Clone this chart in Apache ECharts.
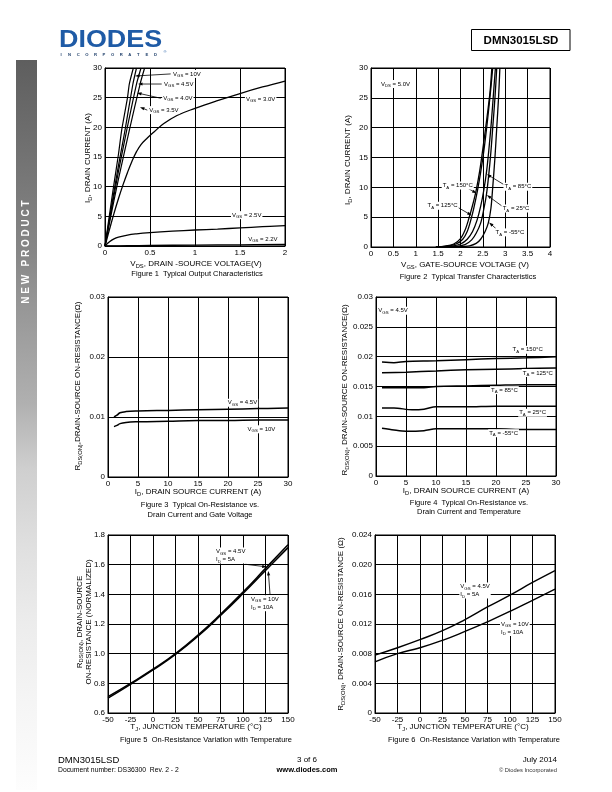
<!DOCTYPE html>
<html><head><meta charset="utf-8">
<script src="https://cdn.jsdelivr.net/npm/echarts@6/dist/echarts.min.js"></script>
<style>html,body{margin:0;padding:0;background:#fff}#c{width:612px;height:792px}</style>
</head><body><div id="c"></div>
<script>
// ---------- DATA ----------
// Figure 1: ID (A) vs VDS (V)
const f1_vgs10 = [[0,0],[0.05,5.3],[0.1,10.5],[0.15,15.5],[0.185,19.5],[0.25,25],[0.27,27.3],[0.315,30]];
const f1_vgs45 = [[0,0],[0.05,4.6],[0.1,9.2],[0.15,13.6],[0.222,19.5],[0.31,27.3],[0.35,30]];
const f1_vgs40 = [[0,0],[0.05,4.3],[0.1,8.5],[0.15,12.6],[0.241,19.5],[0.35,27.3],[0.40,30]];
const f1_vgs35 = [[0,0],[0.05,3.9],[0.1,7.7],[0.15,11.3],[0.27,19.5],[0.39,27.3],[0.44,30]];
const f1_vgs30 = [[0,0],[0.05,2.8],[0.1,5.5],[0.15,8],[0.2,10.3],[0.25,12.4],[0.3,14.3],[0.35,15.9],[0.4,17.1],[0.47,18.2],[0.55,19.3],[0.65,20.6],[0.8,22],[1.0,23.2],[1.25,24.5],[1.5,25.7],[1.75,26.8],[2.0,27.8]];
const f1_vgs25 = [[0,0],[0.05,0.7],[0.1,1.2],[0.15,1.5],[0.25,1.85],[0.35,2.05],[0.5,2.25],[0.75,2.5],[1.0,2.7],[1.25,2.85],[1.5,3.05],[1.75,3.25],[2.0,3.45]];
const f1_vgs22 = [[0,0],[0.25,0.05],[0.5,0.1],[1.0,0.15],[1.5,0.2],[2.0,0.25]];
// Figure 2: ID (A) vs VGS (V)
const f2_m55 = [[1.5,0],[2.0,0.05],[2.2,0.2],[2.35,0.6],[2.45,1.3],[2.55,2.6],[2.62,4],[2.68,6.5],[2.72,10],[2.77,15],[2.81,20],[2.85,25],[2.88,30]];
const f2_25  = [[1.5,0],[1.9,0.1],[2.1,0.4],[2.25,1.2],[2.35,2.3],[2.45,4],[2.52,6.3],[2.58,8.8],[2.63,12],[2.68,16],[2.72,20],[2.77,25],[2.81,30]];
const f2_85  = [[1.45,0],[1.8,0.15],[2.0,0.5],[2.15,1.3],[2.27,2.6],[2.37,4.5],[2.45,6.8],[2.52,9.5],[2.58,12.5],[2.63,16],[2.69,21],[2.74,26],[2.78,30]];
const f2_125 = [[1.45,0],[1.7,0.15],[1.9,0.5],[2.05,1.3],[2.15,2.6],[2.23,4.5],[2.3,6.6],[2.38,9.5],[2.45,12.5],[2.52,16],[2.6,21],[2.67,26],[2.72,30]];
const f2_150 = [[1.45,0],[1.65,0.15],[1.85,0.5],[2.0,1.4],[2.1,2.8],[2.18,4.6],[2.27,7],[2.35,9.5],[2.43,12.8],[2.5,16.5],[2.58,21],[2.66,26],[2.7,30]];
// Figure 3: RDS(on) vs ID
const f3_vgs45 = [[1,0.0100],[1.5,0.0103],[2,0.0107],[3,0.0109],[5,0.0110],[10,0.0111],[15,0.0112],[20,0.0113],[25,0.0114],[30,0.0115]];
const f3_vgs10 = [[1,0.0084],[1.5,0.0086],[2,0.0089],[3,0.0091],[5,0.0092],[10,0.0093],[15,0.0094],[20,0.0094],[25,0.0095],[30,0.0095]];
// Figure 4: RDS(on) vs ID at temperatures
const f4_150 = [[1,0.0191],[3,0.0190],[5,0.0192],[10,0.0193],[15,0.0195],[20,0.0197],[25,0.0198],[30,0.0200]];
const f4_125 = [[1,0.0173],[5,0.0174],[10,0.0176],[15,0.0178],[20,0.0179],[25,0.0180],[30,0.0181]];
const f4_85  = [[1,0.0148],[5,0.0148],[8,0.0148],[10,0.0150],[15,0.0151],[20,0.0152],[25,0.0153],[30,0.0153]];
const f4_25  = [[1,0.0114],[3,0.0114],[6,0.0111],[8,0.0112],[10,0.0116],[15,0.0116],[20,0.0117],[25,0.0117],[30,0.0117]];
const f4_m55 = [[1,0.0080],[3,0.0077],[5,0.0075],[8,0.0076],[10,0.0079],[15,0.0079],[20,0.0079],[25,0.0078],[30,0.0078]];
// Figure 5: normalized RDS(on) vs TJ
const f5_vgs45 = [[-50,0.71],[-25,0.80],[0,0.895],[25,1.0],[50,1.125],[75,1.265],[100,1.415],[125,1.575],[150,1.735]];
const f5_vgs10 = [[-50,0.70],[-25,0.793],[0,0.89],[25,0.995],[50,1.118],[75,1.257],[100,1.405],[125,1.56],[150,1.715]];
// Figure 6: RDS(on) vs TJ
const f6_vgs45 = [[-50,0.0078],[-25,0.0088],[0,0.0099],[25,0.0111],[50,0.0126],[75,0.0143],[100,0.0159],[125,0.0176],[150,0.0192]];
const f6_vgs10 = [[-50,0.0069],[-25,0.0080],[0,0.0088],[25,0.0098],[50,0.0110],[75,0.0123],[100,0.0137],[125,0.0152],[150,0.0167]];

// ---------- LAYOUT ----------
const FF = '"Liberation Sans", Arial, Helvetica, sans-serif';
const grids = [
  {left:105, top:68, width:180, height:178},
  {left:371, top:68, width:179, height:179},
  {left:108, top:297, width:180, height:180},
  {left:376, top:297, width:180, height:179},
  {left:108, top:535, width:180, height:178},
  {left:375, top:535, width:180, height:178}
].map(g => Object.assign({show:true, borderColor:'#000', borderWidth:1, backgroundColor:'transparent', containLabel:false, outerBoundsMode:'none'}, g));

function axis(gi, min, max, interval, fmt) {
  return {type:'value', gridIndex:gi, min, max, interval,
    axisLine:{show:true, onZero:false, lineStyle:{color:'#000', width:1}},
    axisTick:{show:false},
    splitLine:{show:true, lineStyle:{color:'#000', width:1}},
    axisLabel:{color:'#000', fontSize:8, fontFamily:FF, margin:3, formatter:fmt, showMinLabel:true, showMaxLabel:true, hideOverlap:false}};
}
const xAxes = [
  axis(0,0,2,0.5), axis(1,0,4,0.5), axis(2,0,30,5), axis(3,0,30,5),
  axis(4,-50,150,25), axis(5,-50,150,25)
];
const yAxes = [
  axis(0,0,30,5), axis(1,0,30,5),
  axis(2,0,0.03,0.01, v => v===0?'0':v.toFixed(2)),
  axis(3,0,0.03,0.005, v => v===0?'0':(+v.toFixed(3)).toString()),
  axis(4,0.6,1.8,0.2, v => v.toFixed(1)),
  axis(5,0,0.024,0.004, v => v===0?'0':v.toFixed(3))
];

function ln(data, gi, w, sm) {
  return {type:'line', data, xAxisIndex:gi, yAxisIndex:gi, showSymbol:false, symbol:'none',
    smooth:sm, lineStyle:{color:'#000', width:w}, silent:true, clip:true, z:3};
}
const series = [
  ln(f1_vgs10,0,1.2,0.2), ln(f1_vgs45,0,1.2,0.2), ln(f1_vgs40,0,1.2,0.2), ln(f1_vgs35,0,1.2,0.2),
  ln(f1_vgs30,0,1.3,0.4), ln(f1_vgs25,0,1.3,0.4), ln(f1_vgs22,0,1.3,0.4),
  ln(f2_m55,1,1.3,0.3), ln(f2_25,1,1.3,0.3), ln(f2_85,1,1.3,0.3), ln(f2_125,1,1.3,0.3), ln(f2_150,1,1.3,0.3),
  ln(f3_vgs45,2,1.5,0.4), ln(f3_vgs10,2,1.5,0.4),
  ln(f4_150,3,1.5,0.3), ln(f4_125,3,1.5,0.3), ln(f4_85,3,1.5,0.3), ln(f4_25,3,1.5,0.3), ln(f4_m55,3,1.5,0.3),
  ln(f5_vgs45,4,1.5,0.5), ln(f5_vgs10,4,1.5,0.5),
  ln(f6_vgs45,5,1.4,0.5), ln(f6_vgs10,5,1.4,0.5)
];

const chart = echarts.init(document.getElementById('c'), null, {renderer:'canvas', width:612, height:792});
chart.setOption({animation:false, backgroundColor:'#fff', grid:grids, xAxis:xAxes, yAxis:yAxes, series});

// ---------- TEXT HELPERS ----------
function richStr(s) {
  const parts = s.split(/_\{([^}]*)\}/);
  let out = '';
  parts.forEach((p, i) => { if (p) out += '{' + (i % 2 ? 's' : 'm') + '|' + p + '}'; });
  return out;
}
function txt(s, fs, x, y, o) {
  o = o || {};
  const lh = o.lh || Math.round(fs * 1.25);
  const col = o.color || '#000';
  const fw = o.bold ? 'bold' : 'normal';
  const style = {
    text: richStr(s), fill: col,
    align: o.align || 'center', textAlign: o.align || 'center',
    verticalAlign: 'middle', textVerticalAlign: 'middle',
    fontSize: fs, fontFamily: FF, fontWeight: fw,
    rich: {
      m: {fontSize: fs, fontFamily: FF, fontWeight: fw, fill: col, lineHeight: lh, verticalAlign: 'middle'},
      s: {fontSize: fs * 0.72, fontFamily: FF, fontWeight: fw, fill: col, lineHeight: fs * 0.72, verticalAlign: 'bottom'}
    }
  };
  if (o.bg) { style.backgroundColor = o.bg; style.padding = [0, 1]; }
  const el = {type:'text', x, y, z:50, silent:true, style};
  if (o.rot) el.rotation = o.rot;
  return el;
}
function arrow(p1, p2) {
  const dx = p2[0]-p1[0], dy = p2[1]-p1[1], L = Math.hypot(dx, dy) || 1;
  const ux = dx/L, uy = dy/L, nx = -uy, ny = ux, a = 4.5, w = 1.6;
  return [
    {type:'line', z:49, silent:true, shape:{x1:p1[0], y1:p1[1], x2:p2[0]-ux*a*0.8, y2:p2[1]-uy*a*0.8}, style:{stroke:'#000', lineWidth:0.8}},
    {type:'polygon', z:49, silent:true, shape:{points:[[p2[0],p2[1]],[p2[0]-ux*a+nx*w, p2[1]-uy*a+ny*w],[p2[0]-ux*a-nx*w, p2[1]-uy*a-ny*w]]}, style:{fill:'#000'}}
  ];
}

// ---------- ANNOTATIONS (data coordinates) ----------
const notes = [
  {g:0, t:'V_{GS} = 10V', at:[0.745,29.0], ar:[[0.73,29.0],[0.333,28.65]]},
  {g:0, t:'V_{GS} = 4.5V', at:[0.645,27.3], ar:[[0.63,27.3],[0.367,27.3]]},
  {g:0, t:'V_{GS} = 4.0V', at:[0.635,24.9], ar:[[0.62,24.9],[0.356,25.8]]},
  {g:0, t:'V_{GS} = 3.5V', at:[0.48,22.9], ar:[[0.47,22.9],[0.389,23.4]]},
  {g:0, t:'V_{GS} = 3.0V', at:[1.555,24.8]},
  {g:0, t:'V_{GS} = 2.5V', at:[1.40,5.2]},
  {g:0, t:'V_{GS} = 2.2V', at:[1.58,1.2]},
  {g:1, t:'V_{DS} = 5.0V', at:[0.2,27.3]},
  {g:1, t:'T_{A} = 150°C', at:[1.58,10.3], ar:[[2.14,9.95],[2.36,9.0]]},
  {g:1, t:'T_{A} = 125°C', at:[1.24,6.9], ar:[[1.95,6.6],[2.25,5.3]]},
  {g:1, t:'T_{A} = 85°C', at:[2.96,10.1], ar:[[2.96,10.5],[2.59,12.2]]},
  {g:1, t:'T_{A} = 25°C', at:[2.92,6.45], ar:[[2.92,6.9],[2.59,8.7]]},
  {g:1, t:'T_{A} = -55°C', at:[2.76,2.45], ar:[[2.79,3.1],[2.64,4.1]]},
  {g:2, t:'V_{GS} = 4.5V', at:[19.8,0.01238]},
  {g:2, t:'V_{GS} = 10V', at:[23.1,0.00795]},
  {g:3, t:'V_{GS} = 4.5V', at:[0.22,0.0277]},
  {g:3, t:'T_{A} = 150°C', at:[22.6,0.02117]},
  {g:3, t:'T_{A} = 125°C', at:[24.3,0.01728]},
  {g:3, t:'T_{A} = 85°C', at:[19.0,0.01439]},
  {g:3, t:'T_{A} = 25°C', at:[23.7,0.0106]},
  {g:3, t:'T_{A} = -55°C', at:[18.7,0.00717]},
  {g:4, t:'V_{GS} = 4.5V\nI_{D} = 5A', at:[68.9,1.662], ar:[[102.2,1.603],[126.3,1.585]]},
  {g:4, t:'V_{GS} = 10V\nI_{D} = 10A', at:[107.8,1.34], ar:[[130,1.40],[128.1,1.558]]},
  {g:5, t:'V_{GS} = 4.5V\nI_{D} = 5A', at:[43.7,0.01652]},
  {g:5, t:'V_{GS} = 10V\nI_{D} = 10A', at:[88.9,0.01146]}
];

// ---------- STATIC PAGE TEXT ----------
const R90 = Math.PI / 2;
const els = [];
// sidebar
els.push({type:'rect', z:1, silent:true, shape:{x:16, y:60, width:21, height:730},
  style:{fill:{type:'linear', x:0, y:0, x2:0, y2:1, colorStops:[
    {offset:0,color:'#5e5e5e'},{offset:0.26,color:'#868686'},{offset:0.33,color:'#959595'},
    {offset:0.47,color:'#b0b0b0'},{offset:0.56,color:'#cfcfcf'},{offset:0.67,color:'#e0e0e0'},
    {offset:0.77,color:'#ececec'},{offset:0.88,color:'#f5f5f5'},{offset:1,color:'#fdfdfd'}]}}});
els.push(txt('N E W   P R O D U C T', 10, 26.5, 252, {rot:R90, color:'#fff', bold:true}));
// header logo
els.push({type:'text', x:59, y:40, z:10, silent:true, scaleX:1.12,
  style:{text:'DIODES', fill:'#1f5ba6', fontSize:24, fontWeight:'bold', fontFamily:FF, align:'left', textAlign:'left', verticalAlign:'middle', textVerticalAlign:'middle'}});
'INCORPORATED'.split('').forEach((ch, i) => els.push(txt(ch, 4.2, 61 + i * 8.6, 54.5, {bold:true, color:'#1f3f6a'})));
els.push(txt('®', 4, 165, 52, {color:'#1f5ba6'}));
els.push({type:'rect', z:10, silent:true, shape:{x:471.5, y:29.5, width:98.5, height:21}, style:{fill:'#fff', stroke:'#000', lineWidth:1}});
els.push(txt('DMN3015LSD', 11.5, 521, 40.5, {bold:true}));
// axis titles and captions
const T = [
  ['V_{DS}, DRAIN -SOURCE VOLTAGE(V)', 8, 196, 264],
  ['Figure 1  Typical Output Characteristics', 7.5, 197, 274],
  ['I_{D}, DRAIN CURRENT (A)', 8, 88, 158, R90],
  ['V_{GS}, GATE-SOURCE VOLTAGE (V)', 8, 465, 265],
  ['Figure 2  Typical Transfer Characteristics', 7.5, 468, 277],
  ['I_{D}, DRAIN CURRENT (A)', 8, 348, 160, R90],
  ['I_{D}, DRAIN SOURCE CURRENT (A)', 8, 198, 492],
  ['Figure 3  Typical On-Resistance vs.', 7.5, 200, 505],
  ['Drain Current and Gate Voltage', 7.5, 200, 515],
  ['R_{DS(ON)},DRAIN-SOURCE ON-RESISTANCE(Ω)', 8, 78, 386, R90],
  ['I_{D}, DRAIN SOURCE CURRENT (A)', 8, 466, 491],
  ['Figure 4  Typical On-Resistance vs.', 7.5, 469, 503],
  ['Drain Current and Temperature', 7.5, 469, 512],
  ['R_{DS(ON)}, DRAIN-SOURCE ON-RESISTANCE(Ω)', 8, 345, 390, R90],
  ['T_{J}, JUNCTION TEMPERATURE (°C)', 8, 196, 727],
  ['Figure 5  On-Resistance Variation with Temperature', 7.5, 206, 740],
  ['R_{DS(ON)}, DRAIN-SOURCE\nON-RESISTANCE (NORMALIZED)', 8, 84, 622, R90],
  ['T_{J}, JUNCTION TEMPERATURE (°C)', 8, 463, 727],
  ['Figure 6  On-Resistance Variation with Temperature', 7.5, 474, 740],
  ['R_{DS(ON)}, DRAIN-SOURCE ON-RESISTANCE (Ω)', 8, 341, 624, R90]
];
T.forEach(a => els.push(txt(a[0], a[1], a[2], a[3], {rot:a[4], lh: a[0].indexOf('\n') >= 0 ? 9 : undefined})));
// footer
els.push(txt('DMN3015LSD', 9.5, 58, 760, {align:'left'}));
els.push(txt('Document number: DS36300  Rev. 2 - 2', 6.8, 58, 770, {align:'left'}));
els.push(txt('3 of 6', 8, 307, 760));
els.push(txt('www.diodes.com', 7.5, 307, 770, {bold:true}));
els.push(txt('July 2014', 8, 557, 760, {align:'right'}));
els.push(txt('© Diodes Incorporated', 5.8, 557, 770, {align:'right', color:'#333'}));

// annotations
notes.forEach(n => {
  const p = chart.convertToPixel({gridIndex:n.g}, n.at);
  els.push(txt(n.t, 6, p[0], p[1], {align:'left', bg:'#fff', lh:8}));
  if (n.ar) {
    const a = chart.convertToPixel({gridIndex:n.g}, n.ar[0]);
    const b = chart.convertToPixel({gridIndex:n.g}, n.ar[1]);
    arrow(a, b).forEach(e => els.push(e));
  }
});
chart.setOption({graphic:{elements:els}});
</script></body></html>
